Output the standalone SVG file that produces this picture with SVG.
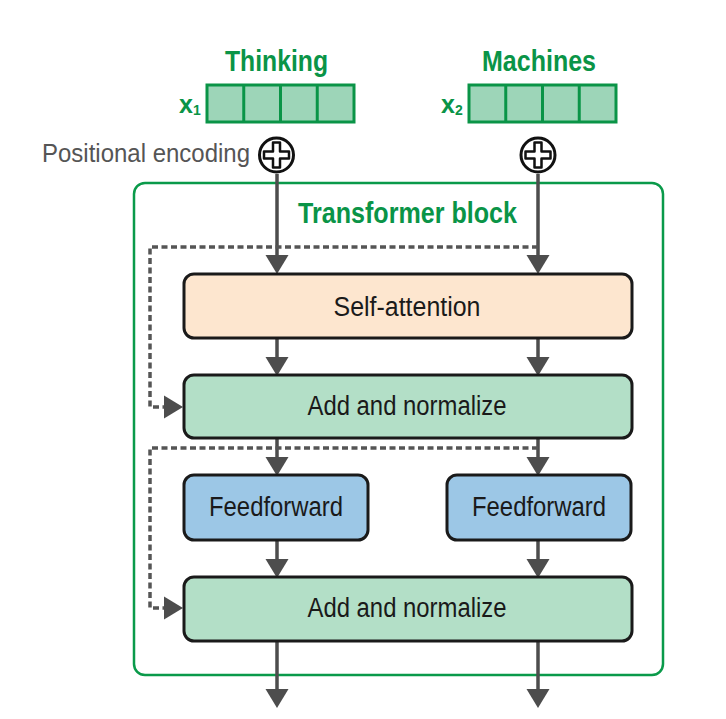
<svg xmlns="http://www.w3.org/2000/svg" width="726" height="719" viewBox="0 0 726 719">
<style>
.lbl{font-family:"Liberation Sans",Arial,sans-serif;font-size:27px;fill:#1a1a1a;text-anchor:middle}
.gt{font-family:"Liberation Sans",Arial,sans-serif;font-weight:bold;font-size:29px;fill:#0a9447;text-anchor:middle}
.xl{font-family:"Liberation Sans",Arial,sans-serif;font-weight:bold;font-size:25px;fill:#0a9447}
.pos{font-family:"Liberation Sans",Arial,sans-serif;font-size:25px;fill:#555555}
.box{stroke:#1a1a1a;stroke-width:3}
.vec{fill:#9dd5b8;stroke:#0a9447;stroke-width:3}
.ln{stroke:#4d4d4d;stroke-width:3.5;fill:none}
.dash{stroke:#555555;stroke-width:3.5;fill:none;stroke-dasharray:6 3.5}
.head{fill:#4d4d4d}
</style>
<defs>
<marker id="ah" markerUnits="userSpaceOnUse" markerWidth="20" markerHeight="24" refX="0" refY="11.5" orient="auto" overflow="visible">
<path d="M0,0 L19,11.5 L0,23 Z" class="head"/>
</marker>
<g id="plus">
<circle cx="0" cy="0" r="17" fill="#ffffff" stroke="#111111" stroke-width="3"/>
<path d="M-3.5,-12.5 H3.5 V-3.5 H12.5 V3.5 H3.5 V12.5 H-3.5 V3.5 H-12.5 V-3.5 H-3.5 Z" fill="#ffffff" stroke="#111111" stroke-width="2.5" stroke-linejoin="round"/>
</g>
</defs>
<rect width="726" height="719" fill="#ffffff"/>

<g id="transformer-block">
<rect x="134" y="183" width="529" height="492" rx="11" fill="none" stroke="#0a9a4a" stroke-width="2.5"/>
<text class="gt" x="407.5" y="223" textLength="219" lengthAdjust="spacingAndGlyphs">Transformer block</text>
</g>

<g id="input-thinking">
<text class="gt" x="276.5" y="71" textLength="103" lengthAdjust="spacingAndGlyphs">Thinking</text>
<text class="xl" x="179" y="113">x<tspan font-size="14" dy="2">1</tspan></text>
<rect class="vec" x="207" y="85" width="147" height="37"/>
<line x1="243.75" y1="85" x2="243.75" y2="122" stroke="#0a9447" stroke-width="3"/>
<line x1="280.5" y1="85" x2="280.5" y2="122" stroke="#0a9447" stroke-width="3"/>
<line x1="317.25" y1="85" x2="317.25" y2="122" stroke="#0a9447" stroke-width="3"/>
</g>

<g id="input-machines">
<text class="gt" x="539" y="71" textLength="114" lengthAdjust="spacingAndGlyphs">Machines</text>
<text class="xl" x="441" y="113">x<tspan font-size="14" dy="2">2</tspan></text>
<rect class="vec" x="469" y="85" width="147" height="37"/>
<line x1="505.75" y1="85" x2="505.75" y2="122" stroke="#0a9447" stroke-width="3"/>
<line x1="542.5" y1="85" x2="542.5" y2="122" stroke="#0a9447" stroke-width="3"/>
<line x1="579.25" y1="85" x2="579.25" y2="122" stroke="#0a9447" stroke-width="3"/>
</g>

<g id="connectors">
<line class="ln" x1="277" y1="174" x2="277" y2="255" marker-end="url(#ah)"/>
<line class="ln" x1="538" y1="174" x2="538" y2="255" marker-end="url(#ah)"/>
<line class="ln" x1="277" y1="338" x2="277" y2="357" marker-end="url(#ah)"/>
<line class="ln" x1="538" y1="338" x2="538" y2="357" marker-end="url(#ah)"/>
<line class="ln" x1="277" y1="438" x2="277" y2="457" marker-end="url(#ah)"/>
<line class="ln" x1="538" y1="438" x2="538" y2="457" marker-end="url(#ah)"/>
<line class="ln" x1="277" y1="540" x2="277" y2="559" marker-end="url(#ah)"/>
<line class="ln" x1="538" y1="540" x2="538" y2="559" marker-end="url(#ah)"/>
<line class="ln" x1="277" y1="641" x2="277" y2="689" marker-end="url(#ah)"/>
<line class="ln" x1="538" y1="641" x2="538" y2="689" marker-end="url(#ah)"/>
<path class="dash" d="M538,247 H150 V407 H164" marker-end="url(#ah)"/>
<path class="dash" d="M538,448 H150 V608 H164" marker-end="url(#ah)"/>
</g>

<g id="positional-encoding">
<text class="pos" x="42" y="162" textLength="208" lengthAdjust="spacingAndGlyphs">Positional encoding</text>
<use href="#plus" x="276.5" y="155"/>
<use href="#plus" x="538" y="155"/>
</g>

<g id="self-attention">
<rect class="box" x="184" y="274" width="448" height="64" rx="10" fill="#fde6cf"/>
<text class="lbl" x="407" y="316" textLength="147" lengthAdjust="spacingAndGlyphs">Self-attention</text>
</g>

<g id="add-normalize-1">
<rect class="box" x="184" y="375" width="448" height="63" rx="10" fill="#b3dfc7"/>
<text class="lbl" x="407" y="415" textLength="199" lengthAdjust="spacingAndGlyphs">Add and normalize</text>
</g>

<g id="feedforward-1">
<rect class="box" x="184" y="475" width="184" height="65" rx="10" fill="#9cc7e6"/>
<text class="lbl" x="276" y="516" textLength="134" lengthAdjust="spacingAndGlyphs">Feedforward</text>
</g>

<g id="feedforward-2">
<rect class="box" x="447" y="475" width="184" height="65" rx="10" fill="#9cc7e6"/>
<text class="lbl" x="539" y="516" textLength="134" lengthAdjust="spacingAndGlyphs">Feedforward</text>
</g>

<g id="add-normalize-2">
<rect class="box" x="184" y="577" width="448" height="64" rx="10" fill="#b3dfc7"/>
<text class="lbl" x="407" y="617" textLength="199" lengthAdjust="spacingAndGlyphs">Add and normalize</text>
</g>
</svg>
